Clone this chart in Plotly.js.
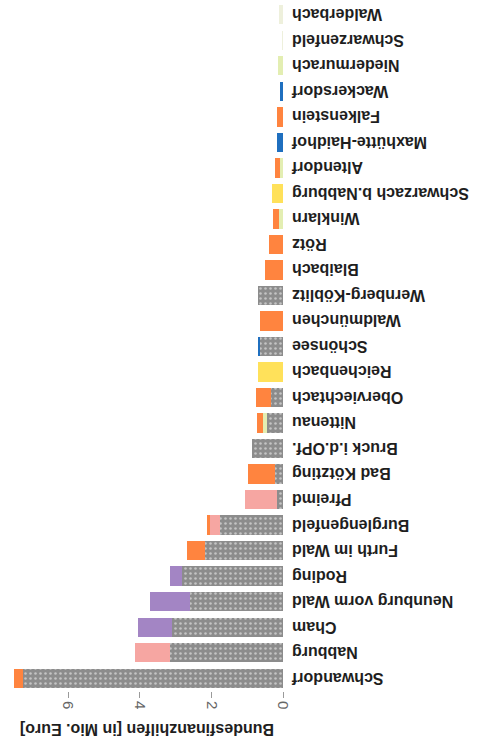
<!DOCTYPE html>
<html>
<head>
<meta charset="utf-8">
<script src="https://cdn.plot.ly/plotly-3.0.1.min.js"></script>
<style>
html,body{margin:0;padding:0;background:#fff;}
#chart{width:486px;height:750px;transform:rotate(180deg);transform-origin:50% 50%;}
</style>
</head>
<body>
<div id="chart"></div>
<script>
const categories = ["Schwandorf","Nabburg","Cham","Neunburg vorm Wald","Roding","Furth im Wald","Burglengenfeld","Pfreimd","Bad Kötzting","Bruck i.d.OPf.","Nittenau","Oberviechtach","Reichenbach","Schönsee","Waldmünchen","Wernberg-Köblitz","Blaibach","Rötz","Winklarn","Schwarzach b.Nabburg","Altendorf","Maxhütte-Haidhof","Falkenstein","Wackersdorf","Niedermurach","Schwarzenfeld","Walderbach"];

const grayVals   = [7.27,3.15,3.11,2.60,2.83,2.18,1.76,0.17,0.23,0.87,0.44,0.33,0,0.63,0,0.70,0,0,0,0,0,0,0,0,0,0,0];
const greenVals  = [0,0,0,0,0,0,0,0,0,0,0.12,0,0,0,0,0,0,0,0.10,0,0.08,0,0,0,0.13,0,0];
const paleVals   = [0,0,0,0,0,0,0,0,0,0,0,0,0,0,0,0,0,0,0,0,0,0,0,0,0,0.04,0.10];
const yellowVals = [0,0,0,0,0,0,0,0,0,0,0,0,0.70,0,0,0,0,0,0,0.30,0,0,0,0,0,0,0];
const pinkVals   = [0,0.98,0,0,0,0,0.28,0.89,0,0,0,0,0,0,0,0,0,0,0,0,0,0,0,0,0,0,0];
const purpleVals = [0,0,0.95,1.12,0.33,0,0,0,0,0,0,0,0,0,0,0,0,0,0,0,0,0,0,0,0,0,0];
const blueVals   = [0,0,0,0,0,0,0,0,0,0,0,0,0,0.07,0,0,0,0,0,0,0,0.18,0,0.09,0,0,0];
const orangeVals = [0.26,0,0,0,0,0.51,0.08,0,0.75,0,0.16,0.42,0,0,0.63,0,0.49,0.39,0.17,0,0.13,0,0.17,0,0,0,0];

const xTicks = [0,2,4,6];

const series = [
  {name:"gray",   vals:grayVals,   color:"#8c8c8c", pattern:true},
  {name:"green",  vals:greenVals,  color:"#e3eeb2"},
  {name:"pale",   vals:paleVals,   color:"#eef0dc"},
  {name:"yellow", vals:yellowVals, color:"#ffe15a"},
  {name:"pink",   vals:pinkVals,   color:"#f6a6a2"},
  {name:"purple", vals:purpleVals, color:"#a385c4"},
  {name:"blue",   vals:blueVals,   color:"#1f6fbf"},
  {name:"orange", vals:orangeVals, color:"#ff843f"}
];

const data = series.map(s => {
  const marker = {color:s.color, line:{width:0}};
  if (s.pattern) {
    marker.pattern = {shape:".", fgcolor:"#c4c4c4", bgcolor:s.color, size:5, solidity:0.2, fillmode:"replace"};
  }
  return {
    type:"bar", orientation:"h", name:s.name,
    x:s.vals, y:categories, marker:marker, hoverinfo:"skip"
  };
});

const layout = {
  width:486, height:750,
  margin:{l:203, r:11, t:59, b:2},
  barmode:"stack", bargap:0.24,
  showlegend:false,
  paper_bgcolor:"#ffffff", plot_bgcolor:"#ffffff",
  font:{family:"Liberation Sans, Arial, sans-serif", size:16, color:"#1e1e1e", weight:"bold"},
  xaxis:{
    side:"top", range:[0,7.6], tickvals:xTicks, ticktext:xTicks.map(String),
    ticks:"outside", ticklen:6, tickcolor:"#9a9a9a", tickwidth:1,
    tickangle:-90, tickfont:{size:15, color:"#666", weight:"normal"},
    showgrid:false, zeroline:false, showline:false,
    title:{text:"Bundesfinanzhilfen [in Mio. Euro]", font:{size:16, color:"#1e1e1e", weight:"bold"}, standoff:10}
  },
  yaxis:{
    type:"category", range:[26.5,-0.5],
    showgrid:false, zeroline:false, showline:false, ticks:"",
    ticklabelstandoff:8, tickfont:{size:16, color:"#1e1e1e", weight:"bold"}
  }
};

Plotly.newPlot("chart", data, layout, {displayModeBar:false, staticPlot:true});
</script>
</body>
</html>
